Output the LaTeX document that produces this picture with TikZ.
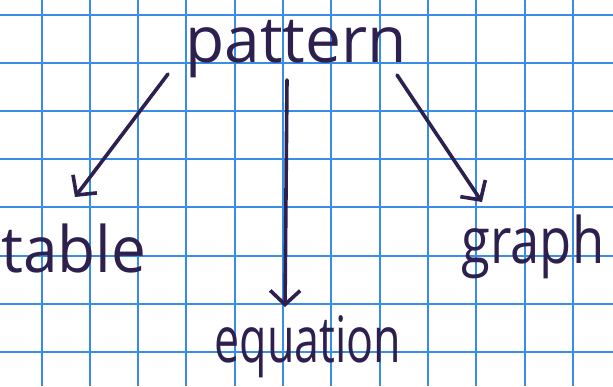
\documentclass[tikz,border=0pt]{standalone}
\usepackage{fontspec}
\setmainfont{Open Sans}
\usetikzlibrary{arrows.meta}

\definecolor{ink}{HTML}{2D1F4E}
\definecolor{gridblue}{HTML}{3A8DE6}

\tikzset{
  word/.style={anchor=base,inner sep=0pt,text=ink,
    font=\fontsize{64}{64}\selectfont},
  arr/.style={draw=ink,line width=3.6pt,line cap=round,
    -{Straight Barb[length=14pt,width=30pt,line width=3.6pt]}}
}

\begin{document}
\begin{tikzpicture}[x=1pt,y=-1pt]

\useasboundingbox (0,0) rectangle (613,386);

% Paper
\fill[white] (0,0) rectangle (613,386);

\foreach \x in {0,...,11}
{
\draw[gridblue,line width=2pt] (41.5+48.3*\x,0) -- (41.5+48.3*\x,386);
}

\foreach \y in {0,...,7}
{
\draw[gridblue,line width=2pt] (0,15+48.1*\y) -- (613,15+48.1*\y);
}

% Words
\node[word] (pattern) at (296,62) {pattern};
\node[word] (table) at (74,272) {\scalebox{0.97}[1]{table}};
\node[word] (equation) at (308,362) {\scalebox{0.7}[1]{equation}};
\node[word] (graph) at (533,263) {\scalebox{0.82}[1]{graph}};

% Arrows
\draw[arr] ([shift={(-128,12)}]pattern.base) -- ([shift={(1,-75)}]table.base);
\draw[arr] ([shift={(-9,18)}]pattern.base) -- ([shift={(-23,-55)}]equation.base);
\draw[arr] ([shift={(101,13)}]pattern.base) -- ([shift={(-51,-61)}]graph.base);

\end{tikzpicture}
\end{document}
